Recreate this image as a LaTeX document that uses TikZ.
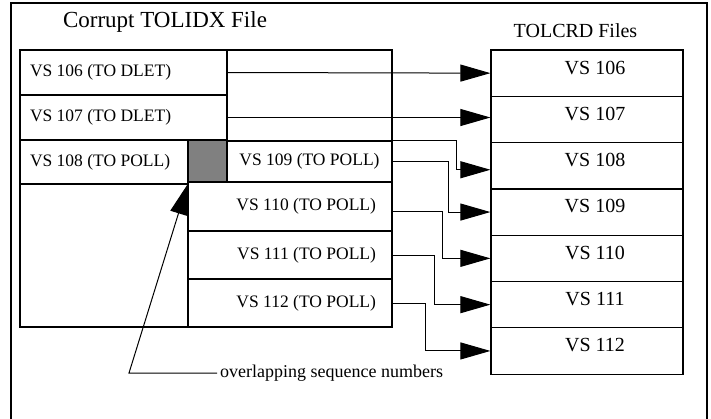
\documentclass[tikz,border=0pt]{standalone}
\usepackage{fontspec}
\setmainfont{Liberation Serif}
\usetikzlibrary{arrows.meta}

\begin{document}
\begin{tikzpicture}[
  box/.style={draw,line width=1.2bp,inner ysep=0pt,fill=white},
  rowtext/.style={font=\fontsize{17.5bp}{21bp}\selectfont},
  leftrow/.style={box,rowtext,inner xsep=10bp,align=flush left},
  pollrow/.style={box,rowtext,inner xsep=16bp,text width=172bp,align=flush right,minimum width=204bp},
  crdbox/.style={box,minimum width=192bp,inner xsep=0pt,text height=24bp,text depth=22.3bp,font=\fontsize{20bp}{24bp}\selectfont,execute at begin node={\hspace*{16bp}}},
  link/.style={-{Triangle[length=30bp,width=17bp]},line width=1bp}]

\useasboundingbox (0bp,0bp) rectangle (711bp,-419bp);
\draw [line width=1.2bp] (11bp,-419bp) -- (11bp,-3bp) -- (707bp,-3bp) -- (707bp,-419bp);

\node (idxtitle) at (165bp,-21.5bp)[font=\fontsize{23bp}{27bp}\selectfont] {Corrupt TOLIDX File};
\node (crdtitle) at (575.5bp,-31bp)[font=\fontsize{20bp}{24bp}\selectfont] {TOLCRD Files};

% corrupt index file
\node (idx) at (123.5bp,-188.5bp)[box,minimum width=207bp,minimum height=277bp] {};
\node (c106) at (123.5bp,-72.5bp)[leftrow,text width=187bp,minimum height=45bp] {VS 106 (TO DLET)};
\node (c107) at (123.5bp,-117.5bp)[leftrow,text width=187bp,minimum height=45bp] {VS 107 (TO DLET)};
\node (c108) at (104bp,-162bp)[leftrow,text width=148bp,minimum height=44bp] {VS 108 (TO POLL)};
\node (gap) at (207.5bp,-162bp)[box,fill=gray,minimum width=39bp,minimum height=44bp] {};
\node (blank) at (309.5bp,-95.5bp)[box,minimum width=165bp,minimum height=91bp] {};
\node (c109) at (309.5bp,-161.5bp)[box,rowtext,inner xsep=0pt,minimum width=165bp,minimum height=41bp] {VS 109 (TO POLL)};
\node (c110) at (290bp,-206.5bp)[pollrow,minimum height=49bp] {VS 110 (TO POLL)};
\node (c111) at (290bp,-255bp)[pollrow,minimum height=48bp] {VS 111 (TO POLL)};
\node (c112) at (290bp,-303bp)[pollrow,minimum height=48bp] {VS 112 (TO POLL)};

% card files
\node (t106) at (587bp,-73.15bp)[crdbox] {VS 106};
\node (t107) at (587bp,-119.45bp)[crdbox] {VS 107};
\node (t108) at (587bp,-165.75bp)[crdbox] {VS 108};
\node (t109) at (587bp,-212.05bp)[crdbox] {VS 109};
\node (t110) at (587bp,-258.35bp)[crdbox] {VS 110};
\node (t111) at (587bp,-304.65bp)[crdbox] {VS 111};
\node (t112) at (587bp,-350.95bp)[crdbox] {VS 112};

\draw [link] (c106.east) -- (t106.west);
\draw [link] (c107.east) -- (c107.east -| t107.west);
\draw [link] (c109.north east) -| ([xshift=-34bp,yshift=-4bp]t108.west) -- ([yshift=-4bp]t108.west);
\draw [link] (c109.east) -| ([xshift=-42bp]t109.west) -- (t109.west);
\draw [link] ([yshift=-5bp]c110.east) -| ([xshift=-48bp]t110.west) -- (t110.west);
\draw [link] (c111.east) -| ([xshift=-56bp]t111.west) -- (t111.west);
\draw [link] (c112.east) -| ([xshift=-65bp]t112.west) -- (t112.west);

% overlap note
\node (ovl) at (217bp,-373bp)[anchor=west,inner sep=3bp,rowtext,font=\fontsize{18bp}{21bp}\selectfont] {overlapping sequence numbers};
\coordinate (kink) at (129bp,-373bp);
\draw [link] (ovl.west) -- (kink) -- (gap.south west);
\end{tikzpicture}
\end{document}
